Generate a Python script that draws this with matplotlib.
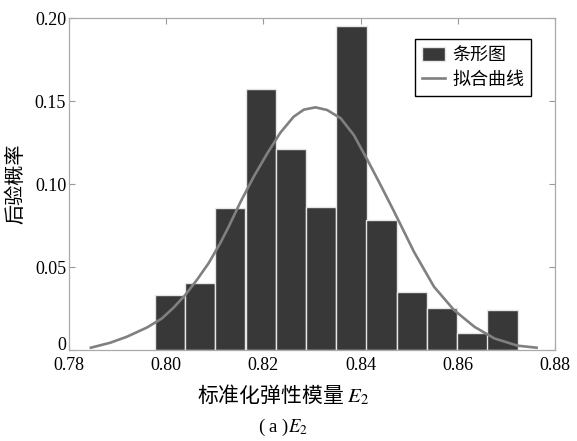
import matplotlib
matplotlib.use("Agg")
import matplotlib.pyplot as plt

plt.rcParams['font.family'] = ['Liberation Serif', 'DejaVu Serif']
plt.rcParams['mathtext.fontset'] = 'stix'

# histogram bins (centres) and posterior probabilities
bin_centers = [0.8008, 0.8070, 0.8132, 0.8195, 0.8257, 0.8319,
               0.8381, 0.8443, 0.8505, 0.8568, 0.8630, 0.8692]
bar_heights = [0.0331, 0.0402, 0.0854, 0.1572, 0.1213, 0.0861,
               0.1954, 0.0783, 0.0351, 0.0251, 0.0100, 0.0241]
bin_width = 0.00622

# fitted curve, points
curve_x = [0.7845, 0.7885, 0.7919, 0.7960, 0.7991, 0.8015, 0.8039, 0.8063,
           0.8087, 0.8111, 0.8128, 0.8153, 0.8180, 0.8208, 0.8235, 0.8262,
           0.8283, 0.8307, 0.8331, 0.8359, 0.8386, 0.8414, 0.8441, 0.8469,
           0.8510, 0.8551, 0.8592, 0.8634, 0.8675, 0.8723, 0.8762]
curve_y = [0.0014, 0.0044, 0.0080, 0.0135, 0.0190, 0.0255, 0.0331, 0.0422,
           0.0522, 0.0643, 0.0740, 0.0893, 0.1044, 0.1185, 0.1310, 0.1405,
           0.1448, 0.1462, 0.1446, 0.1396, 0.1295, 0.1145, 0.0994, 0.0833,
           0.0590, 0.0381, 0.0241, 0.0140, 0.0070, 0.0026, 0.0014]

xticks = [0.78, 0.80, 0.82, 0.84, 0.86, 0.88]
xtick_labels = ['0.78', '0.80', '0.82', '0.84', '0.86', '0.88']
yticks = [0, 0.05, 0.10, 0.15, 0.20]
ytick_labels = ['0', '0.05', '0.10', '0.15', '0.20']

cjk = ['Noto Sans CJK SC', 'DejaVu Sans']

fig = plt.figure(figsize=(5.77, 4.41), dpi=100)
ax = fig.add_axes([0.1196, 0.2063, 0.8424, 0.7528])

bars = ax.bar(bin_centers, bar_heights, width=bin_width, color='#383838',
              edgecolor='#e6e6e6', linewidth=1.0, zorder=2)
line, = ax.plot(curve_x, curve_y, color='#808080', linewidth=1.9,
                solid_joinstyle='round', zorder=3)

ax.set_xlim(0.78, 0.88)
ax.set_ylim(0, 0.20)
ax.set_xticks(xticks)
ax.set_xticklabels(xtick_labels)
ax.set_yticks(yticks)
ax.set_yticklabels(ytick_labels)
ax.tick_params(direction='in', length=4, width=0.8, color='#999999',
               top=True, right=True, labelsize=13)
ax.tick_params(axis='x', pad=5)
ax.tick_params(axis='y', pad=2)
# the "0" sits on the axis line, like in the original
ax.get_yticklabels()[0].set_va('baseline')
for sp in ax.spines.values():
    sp.set_color('#aaaaaa')
    sp.set_linewidth(0.9)

ax.set_ylabel('后验概率', family=cjk, fontsize=14.5, labelpad=2)
ax.yaxis.set_label_coords(-0.088, 0.5)

leg = ax.legend([bars, line], ['条形图', '拟合曲线'], loc='upper right',
                bbox_to_anchor=(0.951, 0.937),
                prop={'family': cjk, 'size': 13}, fancybox=False,
                edgecolor='black', framealpha=1, handlelength=1.25,
                handleheight=0.8, handletextpad=0.4, borderpad=0.4,
                labelspacing=0.35, borderaxespad=0)
leg.get_frame().set_linewidth(1.0)

fig.text(283 / 577, 0.104, '标准化弹性模量 $E_2$', family=cjk, fontsize=15,
         ha='center', va='center')
fig.text(283 / 577, 0.03, '( a )$E_2$', fontsize=13.5,
         ha='center', va='center')

fig.savefig('out.png', dpi=100)
